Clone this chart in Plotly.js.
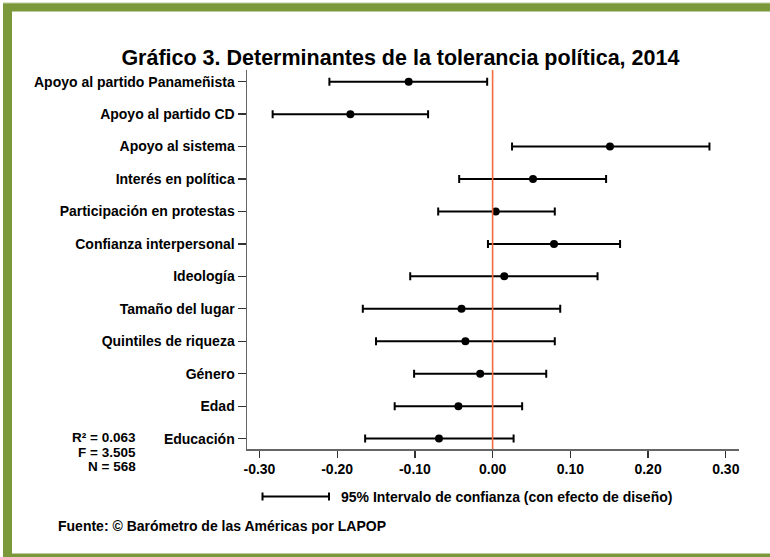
<!DOCTYPE html>
<html>
<head>
<meta charset="utf-8">
<script src="https://cdn.plot.ly/plotly-3.0.1.min.js"></script>
<style>html,body{margin:0;padding:0;background:#fff;}#chart{width:770px;height:557px;}</style>
</head>
<body>
<div id="chart"></div>
<script>
// Categories, top to bottom as shown
const categories = ["Apoyo al partido Panameñista","Apoyo al partido CD","Apoyo al sistema","Interés en política","Participación en protestas","Confianza interpersonal","Ideología","Tamaño del lugar","Quintiles de riqueza","Género","Edad","Educación"];
const estimates = [-0.108,-0.183,0.151,0.052,0.004,0.079,0.015,-0.040,-0.035,-0.016,-0.044,-0.069];
const ciLow     = [-0.210,-0.283,0.025,-0.043,-0.070,-0.006,-0.106,-0.167,-0.150,-0.101,-0.126,-0.164];
const ciHigh    = [-0.007,-0.083,0.279,0.146,0.080,0.164,0.135,0.087,0.080,0.069,0.038,0.027];
const xTicks = [-0.30,-0.20,-0.10,0.00,0.10,0.20,0.30];
const xTickLabels = ["-0.30","-0.20","-0.10","0.00","0.10","0.20","0.30"];
const statsLines = ["R² = 0.063","F = 3.505","N = 568"];
const titleText = "Gráfico 3. Determinantes de la tolerancia política, 2014";
const legendText = "95% Intervalo de confianza (con efecto de diseño)";
const sourceText = "Fuente: © Barómetro de las Américas por LAPOP";

const W = 770, H = 557;
const M = {l:247, r:31, t:70, b:108};
const PW = W - M.l - M.r, PH = H - M.t - M.b;
const px = x => (x - M.l) / PW;
const py = y => (H - M.b - y) / PH;

const FONT = "Liberation Sans, Arial, Helvetica, sans-serif";
const GREEN = "#7b993b";
const FS = 14;

const order = categories.slice().reverse();

const trace = {
  type: "scatter",
  mode: "markers",
  x: estimates,
  y: categories,
  marker: {color: "#000", size: 8},
  error_x: {
    type: "data",
    symmetric: false,
    array: ciHigh.map((h,i) => h - estimates[i]),
    arrayminus: ciLow.map((l,i) => estimates[i] - l),
    color: "#000",
    thickness: 2,
    width: 4
  },
  hoverinfo: "x+y",
  showlegend: false
};

const shapes = [
  // zero reference line
  {type:"line", xref:"x", yref:"paper", x0:0, x1:0, y0:0, y1:1, line:{color:"#f26a3d", width:1.6}},
  // legend symbol
  {type:"line", xref:"paper", yref:"paper", x0:px(262.5), x1:px(329), y0:py(496.5), y1:py(496.5), line:{color:"#000", width:2}},
  {type:"line", xref:"paper", yref:"paper", x0:px(262.5), x1:px(262.5), y0:py(492.5), y1:py(500.5), line:{color:"#000", width:2}},
  {type:"line", xref:"paper", yref:"paper", x0:px(329), x1:px(329), y0:py(492.5), y1:py(500.5), line:{color:"#000", width:2}},
  // green frame
  {type:"rect", xref:"paper", yref:"paper", x0:px(3), x1:px(770), y0:py(3), y1:py(11.5), fillcolor:GREEN, line:{width:0}, layer:"below"},
  {type:"rect", xref:"paper", yref:"paper", x0:px(3), x1:px(12), y0:py(3), y1:py(557), fillcolor:GREEN, line:{width:0}, layer:"below"},
  {type:"rect", xref:"paper", yref:"paper", x0:px(3), x1:px(770), y0:py(553.5), y1:py(557), fillcolor:GREEN, line:{width:0}, layer:"below"},
  {type:"rect", xref:"paper", yref:"paper", x0:px(3), x1:px(770), y0:py(2.5), y1:py(3.5), fillcolor:"#b9cc98", line:{width:0}, layer:"below"}
];

const annotations = [
  {xref:"paper", yref:"paper", x:px(339), y:py(497), xanchor:"left", yanchor:"middle", showarrow:false,
   text:legendText, font:{family:FONT, size:FS, color:"#000", weight:"bold"}},
  {xref:"paper", yref:"paper", x:px(56), y:py(526), xanchor:"left", yanchor:"middle", showarrow:false,
   text:sourceText, font:{family:FONT, size:FS, color:"#000", weight:"bold"}}
];
const statsY = [437.5, 452, 466];
statsLines.forEach((s,i) => {
  annotations.push({xref:"paper", yref:"paper", x:px(137), y:py(statsY[i]), xanchor:"right", yanchor:"middle", showarrow:false,
    borderpad:0, text:s, font:{family:FONT, size:13.5, color:"#000", weight:"bold"}});
});

const layout = {
  width: W, height: H,
  margin: M,
  paper_bgcolor: "#fff",
  plot_bgcolor: "#fff",
  font: {family: FONT, color: "#000"},
  title: {text: titleText, font:{family:FONT, size:21.5, color:"#000", weight:"bold"},
          xref:"container", x:0.52, xanchor:"center", yref:"container", y:1 - 57/H, yanchor:"middle"},
  xaxis: {
    range: [-0.316, 0.317],
    tickvals: xTicks, ticktext: xTickLabels,
    ticks: "outside", ticklen: 7, tickwidth: 1.3, tickcolor: "#333",
    showline: true, linecolor: "#666", linewidth: 1.5,
    showgrid: false, zeroline: false,
    tickfont: {family:FONT, size:FS, color:"#000", weight:"bold"},
    fixedrange: true
  },
  yaxis: {
    type: "category",
    categoryorder: "array", categoryarray: order,
    range: [-0.32, 11.36],
    ticks: "outside", ticklen: 8, tickwidth: 1.3, tickcolor: "#333",
    showline: true, linecolor: "#666", linewidth: 1.5,
    showgrid: false, zeroline: false,
    tickfont: {family:FONT, size:FS, color:"#000", weight:"bold"},
    fixedrange: true
  },
  shapes: shapes,
  annotations: annotations
};

Plotly.newPlot("chart", [trace], layout, {displayModeBar:false, staticPlot:true});
</script>
</body>
</html>
